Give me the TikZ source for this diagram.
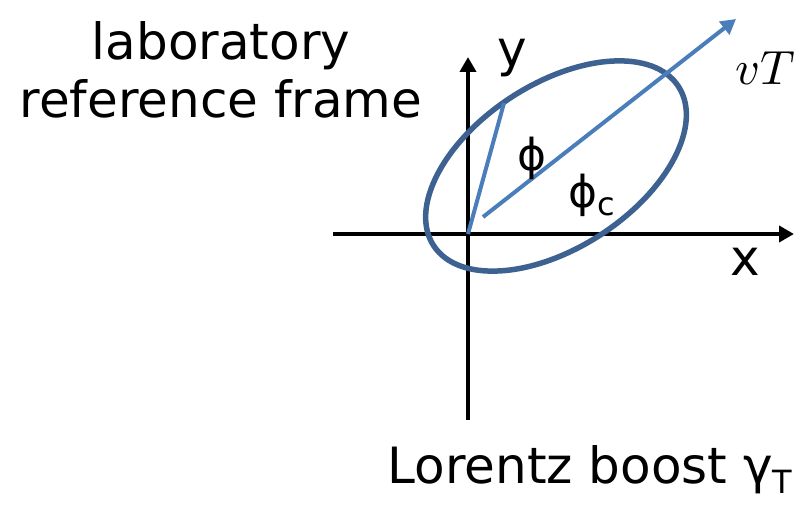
\documentclass[tikz,border=0pt]{standalone}
\usepackage{fontspec}
\setmainfont{DejaVu Sans}
\usepackage{amsmath}
\usepackage{tikz}
\usetikzlibrary{
  arrows.meta,%
  calc,%
  positioning
}
\definecolor{ellblue}{HTML}{3D6190}
\definecolor{lineblue}{HTML}{4A7EBB}
\tikzset{>={Triangle[length=15pt,width=16pt]}}
\tikzset{axis/.style={line width=4.5pt, black},
  ellipseline/.style={line width=5.5pt, ellblue},
  blueline/.style={line width=4pt, lineblue},
  bigtext/.style={font=\fontsize{50}{58}\selectfont, inner sep=0pt},
  phitext/.style={font=\fontsize{44}{48}\selectfont, inner sep=0pt}}
\newcommand{\lowsub}[1]{\raisebox{-0.35ex}{\fontsize{32}{34}\selectfont #1}}

\begin{document}
\begin{tikzpicture}[x=1pt,y=-1pt]
          \useasboundingbox (0,0) rectangle (804,505);
          % axes
          \coordinate (O) at (468,234);
          \coordinate (xstart) at (333,234);
          \coordinate (xend) at (794,234);
          \coordinate (ybot) at (468,420);
          \coordinate (ytop) at (468,57);
          \draw[axis, ->] (xstart) -- (xend);
          \draw[axis, ->] (ybot) -- (ytop);
          % boosted ellipse
          \coordinate (C) at (556,166);
          \draw[ellipseline, rotate around={33:(C)}] (C) ellipse [x radius=146, y radius=82];
          \coordinate (P) at (504,103);
          \coordinate (vstart) at (483,217);
          \coordinate (vend) at (736,19);
          \draw[blueline] (O) -- (P);
          \draw[blueline, ->] (vstart) -- (vend);
          % labels
          \node[bigtext] (ylab) at (512,58) {y};
          \node[bigtext] (xlab) at (745,262) {x};
          \node[inner sep=0pt] (vlab) at (765,68) {\scalebox{4.8}{$vT$}};
          \node[phitext] (phi) at (532,158) {ϕ};
          \node[phitext, anchor=west] (phic) at (568,195) {ϕ\lowsub{c}};
          \node[bigtext, align=center] (frame) at (221,70) {laboratory\\reference frame};
          \node[bigtext] (boost) at (590,470) {Lorentz boost γ\lowsub{T}};
        \end{tikzpicture}
\end{document}
